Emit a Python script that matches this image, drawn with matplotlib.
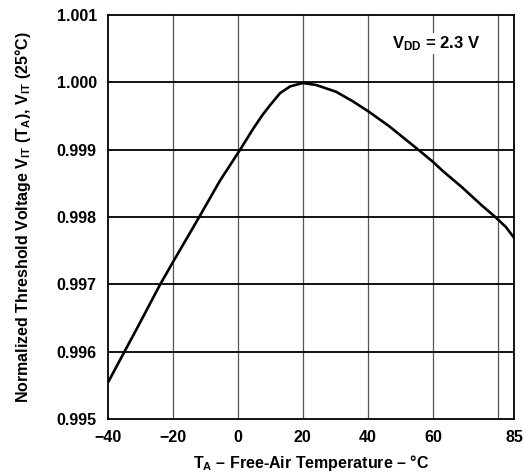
import matplotlib
matplotlib.use("Agg")
import matplotlib.pyplot as plt

plt.rcParams['font.family'] = ['Liberation Sans', 'DejaVu Sans']
plt.rcParams['font.weight'] = 'bold'
plt.rcParams['axes.labelweight'] = 'bold'
plt.rcParams['mathtext.fontset'] = 'custom'
plt.rcParams['mathtext.rm'] = 'Liberation Sans:bold'
plt.rcParams['mathtext.bf'] = 'Liberation Sans:bold'
plt.rcParams['mathtext.it'] = 'Liberation Sans:bold'

# values
temp_c = [-40, -34.9, -31.0, -23.9, -20.1, -11.9, -5.5, 0.7, 4.7, 7.5,
          9.9, 13.0, 16.1, 20.0, 24.1, 30.2, 35.3, 40.4, 46.5, 55.5,
          60.0, 62.9, 69.0, 75.1, 79.2, 82.5, 85.0]
vit_norm = [0.99554, 0.99600, 0.99635, 0.99700, 0.99732, 0.99800, 0.99854,
            0.99900, 0.99931, 0.99951, 0.99966, 0.99984, 0.99994, 0.99999,
            0.99996, 0.99986, 0.99972, 0.99956, 0.99935, 0.99900, 0.99882,
            0.99869, 0.99844, 0.99817, 0.99800, 0.99785, 0.99769]

x_ticks = [-40, -20, 0, 20, 40, 60, 85]
x_grid = [-20, 0, 20, 40, 60, 80]
y_ticks = [0.995, 0.996, 0.997, 0.998, 0.999, 1.000, 1.001]

fig = plt.figure(figsize=(5.24, 4.76), dpi=100)
ax = fig.add_axes([0.206, 0.12, 0.775, 0.8485])

for gx in x_grid:
    ax.axvline(gx, color='#555555', lw=0.9, zorder=1)
for gy in y_ticks[1:-1]:
    ax.axhline(gy, color='black', lw=1.3, zorder=1)

ax.plot(temp_c, vit_norm, color='black', lw=1.9, zorder=3,
        solid_joinstyle='round')

ax.set_xlim(-40, 85)
ax.set_ylim(0.995, 1.001)
ax.set_xticks(x_ticks)
ax.set_xticklabels(['\u221240', '\u221220', '0', '20', '40', '60', '85'])
ax.set_yticks(y_ticks)
ax.set_yticklabels(['%.3f' % v for v in y_ticks])
ax.tick_params(length=0, labelsize=11.5, pad=8)
for s in ax.spines.values():
    s.set_linewidth(1.3)

ax.set_xlabel(r'$\mathbf{T_A}$ ' + '\u2013 Free-Air Temperature \u2013 \u00b0C',
              fontsize=11.5, labelpad=6)
ax.set_ylabel(r'Normalized Threshold Voltage $\mathbf{V_{IT}}$ ($\mathbf{T_A}$), $\mathbf{V_{IT}}$ (25°C)',
              fontsize=11.5, labelpad=17)

ax.text(0.808, 0.93, r'$\mathbf{V_{DD}}$ = 2.3 V', transform=ax.transAxes,
        fontsize=12, ha='center', va='center', zorder=4,
        bbox=dict(facecolor='white', edgecolor='none', pad=1))

fig.savefig('out.png', dpi=100)
